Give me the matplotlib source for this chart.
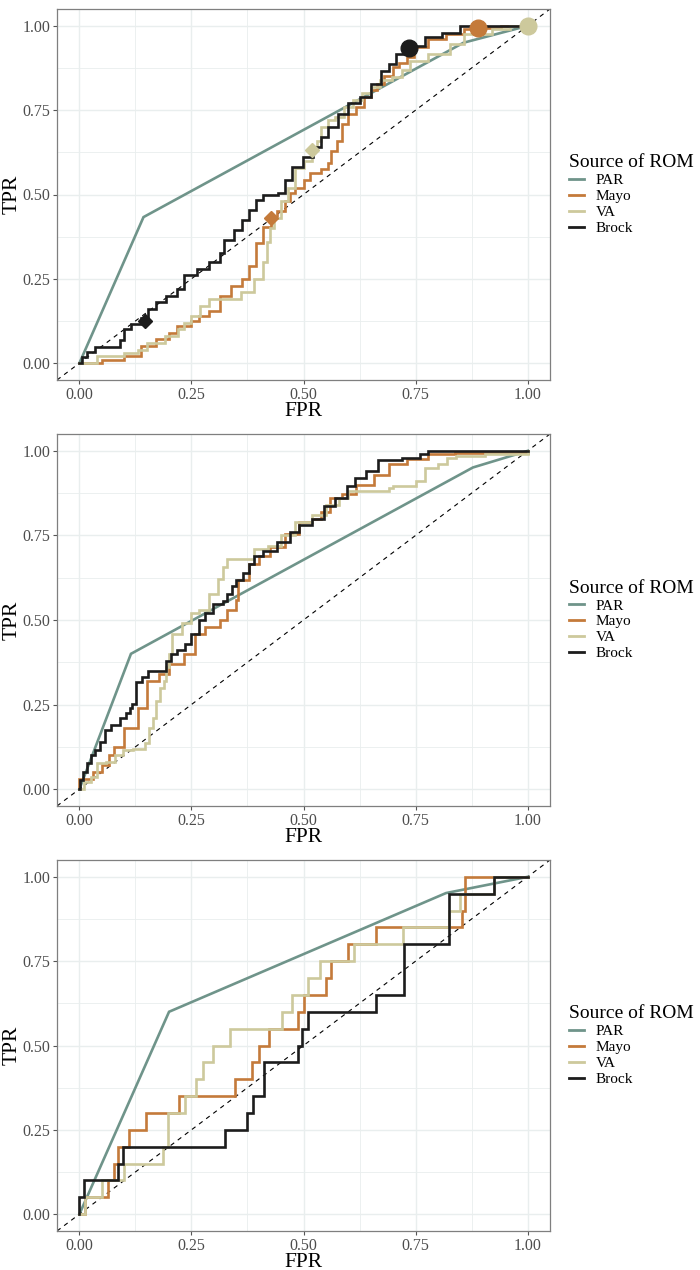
import matplotlib
matplotlib.use("Agg")
import matplotlib.pyplot as plt
from matplotlib.ticker import MultipleLocator

plt.rcParams['font.family'] = ['Liberation Serif', 'DejaVu Serif']

series_names = ["PAR", "Mayo", "VA", "Brock"]
series_colors = {"PAR": "#6f948a", "Mayo": "#c47a3a", "VA": "#cdc99c", "Brock": "#1c1c1c"}
tick_values = [0.0, 0.25, 0.5, 0.75, 1.0]
tick_labels = ["0.00", "0.25", "0.50", "0.75", "1.00"]

# ---------------- Panel 1 ----------------
p1_par_fpr = [0, 0.143, 0.857, 1.0]
p1_par_tpr = [0, 0.433, 0.95, 1.0]

p1_mayo_fpr = [0, 0.04, 0.05, 0.10, 0.138, 0.17, 0.20, 0.218, 0.25, 0.266,
               0.29, 0.314, 0.338, 0.362, 0.378, 0.394, 0.41, 0.428, 0.44, 0.458,
               0.47, 0.482, 0.50, 0.514, 0.538, 0.555, 0.562, 0.574, 0.586, 0.60,
               0.618, 0.635, 0.65, 0.665, 0.68, 0.70, 0.714, 0.73, 0.746, 0.778,
               0.818, 0.858, 0.90, 0.94, 1.0]
p1_mayo_tpr = [0, 0, 0.01, 0.02, 0.052, 0.072, 0.09, 0.11, 0.126, 0.14,
               0.155, 0.20, 0.23, 0.25, 0.288, 0.357, 0.405, 0.43, 0.45, 0.48,
               0.504, 0.52, 0.543, 0.563, 0.575, 0.592, 0.63, 0.66, 0.71, 0.74,
               0.76, 0.79, 0.81, 0.828, 0.85, 0.877, 0.89, 0.907, 0.936, 0.96,
               0.975, 0.99, 0.993, 1.0, 1.0]

p1_va_fpr = [0, 0.02, 0.04, 0.10, 0.13, 0.15, 0.19, 0.22, 0.234, 0.25,
             0.27, 0.29, 0.33, 0.36, 0.39, 0.41, 0.418, 0.425, 0.435, 0.45,
             0.465, 0.48, 0.50, 0.518, 0.53, 0.538, 0.555, 0.57, 0.59, 0.61,
             0.63, 0.65, 0.67, 0.698, 0.72, 0.738, 0.778, 0.826, 0.858, 0.92,
             0.96, 1.0]
p1_va_tpr = [0, 0, 0.02, 0.03, 0.04, 0.06, 0.08, 0.10, 0.12, 0.14,
             0.17, 0.19, 0.19, 0.21, 0.25, 0.30, 0.36, 0.40, 0.43, 0.48,
             0.52, 0.58, 0.60, 0.633, 0.66, 0.70, 0.72, 0.73, 0.76, 0.78,
             0.80, 0.82, 0.84, 0.848, 0.87, 0.897, 0.916, 0.946, 0.975, 0.99,
             1.0, 1.0]

p1_brock_fpr = [0, 0.005, 0.018, 0.034, 0.09, 0.10, 0.114, 0.138, 0.154, 0.17,
                0.194, 0.218, 0.234, 0.262, 0.29, 0.314, 0.322, 0.346, 0.362, 0.378,
                0.394, 0.41, 0.442, 0.458, 0.474, 0.498, 0.522, 0.538, 0.554, 0.578,
                0.60, 0.626, 0.65, 0.674, 0.69, 0.706, 0.738, 0.77, 0.81, 0.85,
                1.0]
p1_brock_tpr = [0, 0.018, 0.032, 0.047, 0.07, 0.10, 0.115, 0.135, 0.16, 0.18,
                0.20, 0.22, 0.26, 0.28, 0.30, 0.327, 0.366, 0.396, 0.425, 0.455,
                0.484, 0.50, 0.504, 0.543, 0.583, 0.612, 0.641, 0.671, 0.70, 0.74,
                0.77, 0.79, 0.828, 0.867, 0.887, 0.917, 0.94, 0.966, 0.98, 1.0,
                1.0]

# marker points (panel 1): diamonds and circles per source
p1_diamond_fpr = {"Mayo": 0.428, "VA": 0.518, "Brock": 0.147}
p1_diamond_tpr = {"Mayo": 0.43, "VA": 0.633, "Brock": 0.125}
p1_circle_fpr = {"Mayo": 0.889, "VA": 1.0, "Brock": 0.735}
p1_circle_tpr = {"Mayo": 0.993, "VA": 1.0, "Brock": 0.935}

# ---------------- Panel 2 ----------------
p2_par_fpr = [0, 0.115, 0.878, 1.0]
p2_par_tpr = [0, 0.40, 0.951, 1.0]

p2_mayo_fpr = [0, 0, 0.02, 0.03, 0.05, 0.065, 0.078, 0.10, 0.13, 0.15,
               0.178, 0.20, 0.234, 0.258, 0.28, 0.314, 0.33, 0.35, 0.354, 0.378,
               0.40, 0.426, 0.458, 0.49, 0.52, 0.54, 0.56, 0.586, 0.618, 0.658,
               0.69, 0.73, 0.778, 0.838, 1.0]
p2_mayo_tpr = [0, 0.03, 0.03, 0.05, 0.07, 0.10, 0.125, 0.18, 0.24, 0.32,
               0.34, 0.37, 0.40, 0.46, 0.48, 0.50, 0.53, 0.56, 0.617, 0.666,
               0.69, 0.715, 0.754, 0.79, 0.80, 0.82, 0.86, 0.872, 0.90, 0.93,
               0.96, 0.975, 0.99, 0.993, 1.0]

p2_va_fpr = [0, 0.01, 0.026, 0.04, 0.06, 0.08, 0.098, 0.12, 0.146, 0.155,
             0.165, 0.17, 0.18, 0.188, 0.194, 0.20, 0.206, 0.23, 0.25, 0.266,
             0.29, 0.31, 0.32, 0.33, 0.378, 0.39, 0.42, 0.45, 0.48, 0.52,
             0.55, 0.58, 0.60, 0.69, 0.70, 0.75, 0.77, 0.80, 0.82, 0.84,
             0.905, 1.0]
p2_va_tpr = [0, 0.02, 0.037, 0.077, 0.08, 0.10, 0.116, 0.12, 0.136, 0.18,
             0.21, 0.26, 0.30, 0.32, 0.36, 0.40, 0.46, 0.49, 0.52, 0.53,
             0.578, 0.62, 0.656, 0.68, 0.68, 0.71, 0.72, 0.75, 0.79, 0.81,
             0.84, 0.86, 0.88, 0.89, 0.897, 0.91, 0.95, 0.96, 0.98, 0.985,
             0.99, 1.0]

p2_brock_fpr = [0, 0.002, 0.008, 0.018, 0.026, 0.034, 0.045, 0.058, 0.07, 0.09,
                0.105, 0.112, 0.118, 0.126, 0.14, 0.154, 0.194, 0.205, 0.218, 0.235,
                0.25, 0.266, 0.28, 0.298, 0.32, 0.33, 0.34, 0.35, 0.365, 0.378,
                0.39, 0.41, 0.44, 0.47, 0.49, 0.52, 0.545, 0.57, 0.597, 0.615,
                0.64, 0.666, 0.72, 0.76, 0.778, 1.0]
p2_brock_tpr = [0, 0.027, 0.05, 0.077, 0.10, 0.116, 0.14, 0.175, 0.19, 0.21,
                0.224, 0.24, 0.253, 0.317, 0.33, 0.35, 0.38, 0.40, 0.41, 0.43,
                0.46, 0.499, 0.52, 0.548, 0.555, 0.578, 0.60, 0.617, 0.64, 0.666,
                0.69, 0.705, 0.73, 0.76, 0.78, 0.80, 0.838, 0.86, 0.897, 0.92,
                0.94, 0.972, 0.98, 0.99, 1.0, 1.0]

# ---------------- Panel 3 ----------------
p3_par_fpr = [0, 0.2, 0.818, 1.0]
p3_par_tpr = [0, 0.6, 0.952, 1.0]

p3_mayo_fpr = [0, 0.012, 0.064, 0.077, 0.087, 0.11, 0.149, 0.222, 0.347, 0.386,
               0.40, 0.424, 0.488, 0.50, 0.55, 0.562, 0.60, 0.661, 0.853, 0.861, 1.0]
p3_mayo_tpr = [0, 0.05, 0.10, 0.15, 0.20, 0.25, 0.30, 0.35, 0.40, 0.45,
               0.50, 0.55, 0.60, 0.65, 0.70, 0.75, 0.80, 0.85, 0.90, 1.0, 1.0]

p3_va_fpr = [0, 0.012, 0.051, 0.099, 0.186, 0.198, 0.236, 0.261, 0.275, 0.299,
             0.337, 0.451, 0.474, 0.511, 0.537, 0.612, 0.723, 0.824, 0.849, 0.925, 1.0]
p3_va_tpr = [0, 0.05, 0.10, 0.15, 0.20, 0.30, 0.35, 0.40, 0.45, 0.50,
             0.55, 0.60, 0.65, 0.70, 0.75, 0.80, 0.85, 0.90, 0.95, 1.0, 1.0]

p3_brock_fpr = [0, 0, 0.01, 0.086, 0.098, 0.325, 0.375, 0.387, 0.411, 0.488,
                0.497, 0.51, 0.662, 0.725, 0.825, 0.925, 1.0]
p3_brock_tpr = [0, 0.05, 0.10, 0.15, 0.20, 0.25, 0.30, 0.35, 0.45, 0.50,
                0.55, 0.60, 0.65, 0.80, 0.95, 1.0, 1.0]

panels = [
    {"PAR": (p1_par_fpr, p1_par_tpr), "Mayo": (p1_mayo_fpr, p1_mayo_tpr),
     "VA": (p1_va_fpr, p1_va_tpr), "Brock": (p1_brock_fpr, p1_brock_tpr)},
    {"PAR": (p2_par_fpr, p2_par_tpr), "Mayo": (p2_mayo_fpr, p2_mayo_tpr),
     "VA": (p2_va_fpr, p2_va_tpr), "Brock": (p2_brock_fpr, p2_brock_tpr)},
    {"PAR": (p3_par_fpr, p3_par_tpr), "Mayo": (p3_mayo_fpr, p3_mayo_tpr),
     "VA": (p3_va_fpr, p3_va_tpr), "Brock": (p3_brock_fpr, p3_brock_tpr)},
]

W, H = 700, 1270
fig = plt.figure(figsize=(W / 100, H / 100), dpi=100)
fig.patch.set_facecolor("white")

left_px, right_px = 57, 550
panel_px = [(9, 380), (434, 806), (860, 1231)]

grid_col = "#e9eeee"
for i, (top, bot) in enumerate(panel_px):
    ax = fig.add_axes([left_px / W, 1 - bot / H, (right_px - left_px) / W, (bot - top) / H])
    ax.set_xlim(-0.05, 1.05)
    ax.set_ylim(-0.05, 1.05)
    ax.set_xticks(tick_values)
    ax.set_xticklabels(tick_labels)
    ax.set_yticks(tick_values)
    ax.set_yticklabels(tick_labels)
    ax.xaxis.set_minor_locator(MultipleLocator(0.125))
    ax.yaxis.set_minor_locator(MultipleLocator(0.125))
    ax.grid(True, which="major", color=grid_col, lw=1.0, zorder=0)
    ax.grid(True, which="minor", color=grid_col, lw=0.6, zorder=0)
    ax.tick_params(which="minor", length=0)
    ax.tick_params(which="major", length=3, width=0.8, color="#555555",
                   labelsize=11.5, labelcolor="#4d4d4d", pad=2)
    for sp in ax.spines.values():
        sp.set_color("#7f7f7f")
        sp.set_linewidth(0.9)
    ax.set_axisbelow(True)

    ax.axline((0, 0), slope=1, color="black", lw=0.8, ls=(0, (4, 4)), zorder=2)

    data = panels[i]
    handles = []
    for name in series_names:
        fx, ty = data[name]
        if name == "PAR":
            h, = ax.plot(fx, ty, color=series_colors[name], lw=1.9, zorder=3,
                         solid_joinstyle="miter", label=name)
        else:
            h, = ax.plot(fx, ty, color=series_colors[name], lw=1.9, zorder=3,
                         drawstyle="steps-post", solid_joinstyle="miter", label=name)
        handles.append(h)

    if i == 0:
        for name in ["Mayo", "VA", "Brock"]:
            ax.plot([p1_diamond_fpr[name]], [p1_diamond_tpr[name]], marker="D", ms=7.5,
                    color=series_colors[name], ls="none", zorder=5, clip_on=False)
            ax.plot([p1_circle_fpr[name]], [p1_circle_tpr[name]], marker="o", ms=12,
                    color=series_colors[name], ls="none", zorder=5, clip_on=False)

    ax.set_xlabel("FPR", fontsize=15.5, labelpad=-1)
    ax.set_ylabel("TPR", fontsize=15.5, va="center")
    ax.yaxis.set_label_coords((12 - left_px) / (right_px - left_px), 0.5)

    leg = ax.legend(handles=handles, labels=series_names, title="Source of ROM",
                    loc="center left", bbox_to_anchor=((569 - left_px) / (right_px - left_px), 0.5),
                    frameon=False, fontsize=11, title_fontsize=14,
                    handlelength=1.0, handletextpad=0.75, labelspacing=0.15,
                    borderpad=0, borderaxespad=0, alignment="left")
    for lh in leg.get_lines():
        lh.set_linewidth(2.0)

fig.savefig("out.png", dpi=100, facecolor="white")
